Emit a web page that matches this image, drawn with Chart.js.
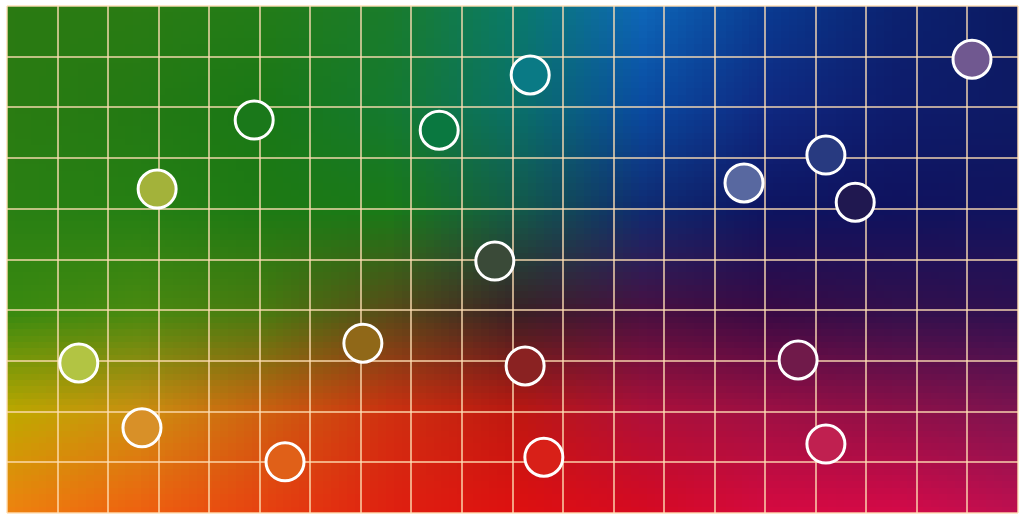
<!DOCTYPE html>
<html>
<head>
<meta charset="utf-8">
<script src="https://cdn.jsdelivr.net/npm/chart.js@4"></script>
<style>
  html, body { margin: 0; padding: 0; background: #fff; }
  #wrap { width: 1024px; height: 521px; }
</style>
</head>
<body>
<div id="wrap"><canvas id="scatter-chart"></canvas></div>
<script>
// point positions (x: 0-20, y: 0-10)
const xValues = [4.89, 2.97, 8.55, 10.35, 19.09, 16.20, 14.58, 16.78, 9.65, 1.42, 7.04, 10.25, 15.65, 2.67, 5.50, 10.62, 16.20];
const yValues = [7.75, 6.39, 7.55, 8.64, 8.95, 7.06, 6.51, 6.13, 4.97, 2.96, 3.35, 2.90, 3.02, 1.68, 1.01, 1.10, 1.36];
const pointColors = ['#1a781a', '#a3b23a', '#0a7840', '#0a7a85', '#705890', '#283a80', '#5868a0', '#201850', '#3a4a38',
                     '#b2c443', '#906818', '#8a2222', '#701a4a', '#d89028', '#e06018', '#d82018', '#c02050'];

// colour field behind the grid: 9 x 6 colour nodes, top row first, smoothed bilinearly
const fieldColors = [
    ['#2a7a12', '#2a7c14', '#237c18', '#1a7c2c', '#0a7a6a', '#0e66b8', '#0a3a90', '#0c2270', '#0c1a62'],
    ['#2a7c12', '#247a14', '#1a7816', '#157a30', '#0a7068', '#0a4aa0', '#102880', '#0e1c6c', '#0e1a64'],
    ['#2a8014', '#268014', '#1e7a14', '#1a7a18', '#145a48', '#102a70', '#0e1460', '#10125e', '#12145e'],
    ['#3a8a10', '#4a8a10', '#4a7a10', '#5a4a18', '#3a2024', '#4a1040', '#3a0a44', '#34104c', '#301050'],
    ['#c0a800', '#d09010', '#d06010', '#d03010', '#c01810', '#b0103a', '#a01044', '#901048', '#801450'],
    ['#f08010', '#f06010', '#e84010', '#e02010', '#e01010', '#d80a20', '#d80a40', '#d80a48', '#c01050']
];

let fieldCanvas = null;
function buildField() {
    let c = document.createElement('canvas');
    c.width = fieldColors[0].length;
    c.height = fieldColors.length;
    let fc = c.getContext('2d');
    fieldColors.forEach(function (row, j) {
        row.forEach(function (col, i) {
            fc.fillStyle = col;
            fc.fillRect(i, j, 1, 1);
        });
    });
    return c;
}

const backgroundField = {
    id: 'backgroundField',
    beforeDraw(chart) {
        if (!fieldCanvas) fieldCanvas = buildField();
        let ctx = chart.ctx;
        let a = chart.chartArea;
        let cols = fieldCanvas.width, rows = fieldCanvas.height;
        let cw = (a.right - a.left) / (cols - 1);
        let ch = (a.bottom - a.top) / (rows - 1);
        ctx.save();
        ctx.beginPath();
        ctx.rect(a.left, a.top, a.right - a.left, a.bottom - a.top);
        ctx.clip();
        ctx.imageSmoothingEnabled = true;
        ctx.drawImage(fieldCanvas, a.left - cw / 2, a.top - ch / 2, cw * cols, ch * rows);
        ctx.restore();
    }
};

let points = xValues.map(function (x, i) { return { x: x, y: yValues[i] }; });

let ctx = document.getElementById('scatter-chart').getContext('2d');
new Chart(ctx, {
    type: 'scatter',
    data: {
        datasets: [{
            data: points,
            backgroundColor: pointColors,
            borderColor: '#ffffff',
            borderWidth: 3,
            pointRadius: 19,
            pointHoverRadius: 19
        }]
    },
    options: {
        responsive: true,
        maintainAspectRatio: false,
        animation: false,
        events: [],
        layout: { autoPadding: false, padding: { left: 7, top: 6, right: 6, bottom: 8 } },
        plugins: { legend: { display: false }, tooltip: { enabled: false } },
        scales: {
            x: {
                min: 0, max: 20,
                ticks: { display: false, stepSize: 1 },
                grid: { color: 'rgba(255,222,180,0.7)', lineWidth: 2, drawTicks: false },
                border: { display: false }
            },
            y: {
                min: 0, max: 10,
                ticks: { display: false, stepSize: 1 },
                grid: { color: 'rgba(255,222,180,0.7)', lineWidth: 2, drawTicks: false },
                border: { display: false }
            }
        }
    },
    plugins: [backgroundField]
});
</script>
</body>
</html>
